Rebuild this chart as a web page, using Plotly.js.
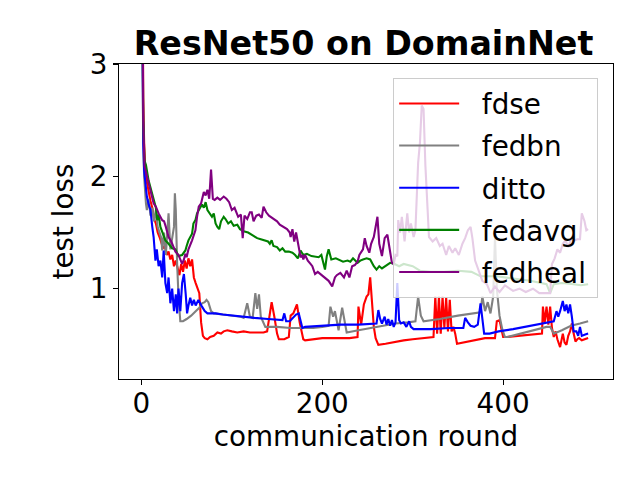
<!DOCTYPE html>
<html>
<head>
<meta charset="utf-8">
<script src="https://cdn.plot.ly/plotly-3.0.1.min.js"></script>
<style>
  body { margin: 0; background: #fff; }
  #graph { width: 640px; height: 480px; }
</style>
</head>
<body>
<div id="graph"></div>
<script>
// values
const fdseRounds = [0,1,2,3,4,6,8,10,12,14,16,18,20,22,24,26,28,30,32,34,36,38,40,42,44,46,48,50,52,54,56,58,60,62,64,66,68,70,73,76,80,84,88,91,95,100,106,113,120,128,135,139,141,144,147,150,152,158,163,165,168,172,175,179,181,190,200,210,220,230,239,240,243,246,249,251,253,255,257,259,262,270,281,290,300,310,323,325,327,329,331,333,335,337,339,341,343,345,347,349,355,365,380,391,393,396,400,404,415,430,443,444,446,448,450,452,454,456,458,460,463,466,468,470,472,474,476,478,480,482,484,487,490,494]
const fdseLoss = [5.5,3.6,2.7,2.3,2.1,1.95,1.85,1.78,1.72,1.62,1.58,1.5,1.46,1.4,1.36,1.38,1.3,1.33,1.26,1.3,1.2,1.25,1.18,1.12,1.22,1.15,1.25,1.18,1.27,1.2,1.26,1.1,1.05,1.0,0.96,0.7,0.58,0.56,0.55,0.57,0.58,0.61,0.6,0.62,0.63,0.62,0.61,0.62,0.61,0.61,0.61,0.62,0.72,0.88,0.75,0.6,0.55,0.55,0.57,0.76,0.78,0.86,0.7,0.55,0.54,0.55,0.56,0.56,0.56,0.56,0.57,0.84,0.68,0.86,0.93,0.95,1.1,0.9,0.66,0.56,0.5,0.51,0.53,0.54,0.55,0.56,0.57,0.93,0.6,0.93,0.6,0.93,0.65,0.92,0.62,0.9,0.62,0.66,0.6,0.51,0.52,0.54,0.56,0.56,0.71,0.72,0.57,0.57,0.58,0.59,0.6,0.84,0.7,0.84,0.68,0.84,0.65,0.57,0.62,0.55,0.48,0.6,0.52,0.5,0.58,0.62,0.69,0.6,0.53,0.55,0.56,0.54,0.55,0.56]

const fedbnRounds = [0,1,2,3,4,5,6,8,10,12,14,16,18,20,22,23,25,27,29,30,32,34,36,37,38,39.5,41,43,46,50,55,60,64,67,70,72,74,77,80,90,100,110,113,117,120,123,126,128,130,132,137,150,165,179,190,200,207,209,212,214,218,222,225,227,240,260,281,295,303,306,309,312,330,350,370,375,377,380,383,386,389,391,393,396,399,402,405,420,435,448,452,456,465,475,485,494]
const fedbnLoss = [4.0,2.8,2.3,2.0,1.82,1.76,1.7,1.8,1.65,1.72,1.6,1.7,1.55,1.5,1.45,1.34,1.5,1.3,1.6,1.67,1.35,1.45,1.55,1.85,1.7,1.22,0.93,0.71,0.71,0.73,0.76,0.8,0.83,0.87,0.88,0.9,0.88,0.8,0.78,0.77,0.76,0.75,0.74,0.87,0.75,0.74,0.96,0.82,0.95,0.75,0.66,0.66,0.65,0.65,0.65,0.66,0.67,0.84,0.75,0.8,0.63,0.83,0.68,0.61,0.63,0.66,0.69,0.7,0.71,0.93,0.76,0.71,0.73,0.76,0.78,0.79,0.93,0.8,0.88,0.78,0.93,1.46,1.0,0.76,0.64,0.57,0.57,0.6,0.63,0.66,0.66,0.6,0.63,0.67,0.69,0.71]

const dittoRounds = [0,1,2,3,4,5,6,8,10,12,13.5,15.5,17,19,21,23,24.6,26.5,28.5,30,32,34,36,38,39.5,41,43,45,47,49,50.5,52,54,56,58,60,63,67,70,73,76,82,90,100,113,125,140,156,158,160,164,168,171,174,176,178,181,200,220,240,260,262,264,266,269,271,273,275,277,279,281,283,285,287,290,293,296,298,301,320,340,356,358,361,364,368,372,375,377,379,385,395,411,430,448,456,459,461,463,466,468,470,472,474,476,478,481,483,485,487,490,494]
const dittoLoss = [4.8,3.0,2.3,2.05,1.95,1.88,1.82,1.75,1.7,1.55,1.46,1.25,1.35,1.2,1.25,1.1,1.34,1.05,0.96,1.1,0.87,1.0,0.8,0.95,0.78,1.0,0.8,1.05,1.13,0.95,0.78,0.85,0.92,0.85,0.9,0.85,0.9,0.84,0.8,0.78,0.78,0.78,0.77,0.76,0.75,0.74,0.73,0.72,0.78,0.71,0.71,0.75,0.77,0.78,0.72,0.65,0.66,0.67,0.68,0.68,0.69,0.81,0.73,0.69,0.75,0.68,0.73,0.67,0.72,0.66,0.7,1.05,0.72,0.69,0.7,0.66,0.71,0.66,0.64,0.64,0.65,0.65,0.74,0.7,0.67,0.66,0.68,0.87,0.7,0.6,0.6,0.62,0.64,0.67,0.7,0.71,0.8,0.75,0.8,0.89,0.8,0.86,0.78,0.86,0.75,0.62,0.62,0.58,0.66,0.58,0.59,0.6]

const fedavgRounds = [0,1,2,3.4,5,8,10,13.6,16,17.5,19,21,23,26.5,30,34,37.5,41,45,47,48.6,50,52,56,57.5,59.7,61.5,63.5,65.2,67,69,71,73,76,78,80,82,84,86,88,91,93,96,99,102,106,109,113,118,124,128,132,136,140,142,144,146,150,153,156,159,163,167,170,173,176,179,183,188,196,199,203,205,207,210,215,223,228,231,234,239,242,245,249,253,257,260,263,266,270,275,280,285,290,300,308,320,335,350,365,375,393,410,430,448,452,456,465,478,486,494]
const fedavgLoss = [5.0,3.2,2.5,2.14,2.1,1.96,1.9,1.79,1.72,1.61,1.66,1.55,1.5,1.43,1.4,1.36,1.35,1.29,1.3,1.33,1.34,1.38,1.43,1.49,1.58,1.61,1.67,1.7,1.73,1.75,1.72,1.77,1.7,1.67,1.64,1.67,1.58,1.55,1.53,1.6,1.64,1.62,1.58,1.6,1.56,1.57,1.53,1.51,1.5,1.47,1.45,1.44,1.43,1.42,1.4,1.43,1.38,1.37,1.34,1.36,1.33,1.33,1.32,1.3,1.27,1.34,1.3,1.31,1.29,1.28,1.3,1.17,1.29,1.35,1.26,1.27,1.24,1.25,1.24,1.27,1.23,1.25,1.26,1.27,1.26,1.2,1.17,1.2,1.18,1.2,1.23,1.22,1.2,1.22,1.2,1.16,1.15,1.15,1.16,1.15,1.11,1.11,1.09,1.07,1.04,0.96,1.04,1.05,1.04,1.03,1.04]

const fedhealRounds = [0,1,2,3.4,6,8,11,13.5,16,19,23,25,27,30,33,37.6,41,45,47,48.6,50,52,56,59.7,61.5,63.4,66,69,71,73,75,77,79,81,84,87,91,94,97,100,103,107,110,112,114,117,120,122,124,127,130,133,135,138,141,145,150,153,157,161,164,165,167,169,171,173,174,176,178,179,181,184,187,189,192,195,198,203,207,211,214,216,220,224,227,230,233,236,239,241,245,247,249,252,254,257,259,261,263,266,269,272,274,277,279,281,283,284,286,288,291,294,296,298,301,303,306,308,310,312,314,316,318,322,326,330,333,337,340,344,347,351,355,358,361,364,366,369,373,377,382,386,391,396,402,411,418,425,433,440,448,452,454,457,460,463,466,469,472,476,479,482,485,487,490,492,494]
const fedhealLoss = [6.0,3.4,2.5,2.09,2.0,1.94,1.85,1.76,1.73,1.67,1.61,1.6,1.55,1.46,1.42,1.33,1.3,1.22,1.26,1.31,1.28,1.35,1.43,1.52,1.64,1.73,1.76,1.86,1.83,1.88,1.8,2.06,1.8,1.79,1.81,1.79,1.82,1.8,1.77,1.7,1.72,1.64,1.66,1.45,1.65,1.62,1.68,1.68,1.6,1.65,1.66,1.63,1.73,1.68,1.65,1.63,1.6,1.57,1.55,1.53,1.5,1.46,1.53,1.42,1.5,1.4,1.37,1.28,1.3,1.26,1.3,1.25,1.22,1.2,1.13,1.15,1.13,1.1,1.07,1.02,1.1,1.12,1.14,1.1,1.16,1.1,1.2,1.21,1.24,1.3,1.35,1.45,1.38,1.32,1.4,1.46,1.55,1.64,1.4,1.29,1.45,1.48,1.38,1.23,1.22,1.3,1.29,1.61,1.5,1.64,1.42,1.67,1.5,1.58,1.46,1.52,2.12,2.3,2.63,2.6,2.1,1.73,1.46,1.42,1.45,1.38,1.4,1.3,1.38,1.32,1.36,1.3,1.4,1.45,1.52,1.55,1.45,1.25,1.15,1.07,1.04,0.96,1.02,0.97,1.03,0.98,1.0,0.97,1.0,0.96,0.96,0.96,1.22,1.27,1.35,1.32,1.4,1.43,1.37,1.46,1.43,1.44,1.44,1.67,1.6,1.52,1.53]

const seriesNames = ['fdse', 'fedbn', 'ditto', 'fedavg', 'fedheal']
const seriesColors = ['red', 'gray', 'blue', 'green', 'purple']
const seriesX = [fdseRounds, fedbnRounds, dittoRounds, fedavgRounds, fedhealRounds]
const seriesY = [fdseLoss, fedbnLoss, dittoLoss, fedavgLoss, fedhealLoss]

const font = 'DejaVu Sans, sans-serif'

const plotData = []
for (let i = 0; i < seriesNames.length; i++) {
    plotData.push({
        x: seriesX[i],
        y: seriesY[i],
        type: 'scatter',
        mode: 'lines',
        // no-break spaces push the label away from the line sample and pad the box
        name: '\u00a0\u00a0' + seriesNames[i] + '\u2009',
        legendgroup: seriesNames[i],
        line: {color: seriesColors[i], width: 2.1},
    })
}

const axisStyle = {
    showline: true,
    mirror: true,
    linecolor: 'black',
    linewidth: 1.1,
    showgrid: false,
    zeroline: false,
    ticks: 'outside',
    ticklen: 5,
    tickwidth: 1.1,
    tickcolor: 'black',
    tickfont: {family: font, size: 27.8, color: 'black'},
}

Plotly.newPlot('graph', plotData, {
    width: 640,
    height: 480,
    margin: {l: 119, r: 27, t: 64, b: 101},
    paper_bgcolor: 'white',
    plot_bgcolor: 'white',
    title: {
        text: '<b>ResNet50 on DomainNet</b>',
        font: {family: font, size: 33.3, color: 'black'},
        x: 0.568,
        xanchor: 'center',
        y: 0.885,
        yanchor: 'bottom',
    },
    xaxis: Object.assign({}, axisStyle, {
        range: [-24.8, 521.5],
        tickvals: [0, 200, 400],
        ticklabelstandoff: -5,
        title: {text: 'communication round', font: {family: font, size: 27.8, color: 'black'}, standoff: 4},
    }),
    yaxis: Object.assign({}, axisStyle, {
        range: [0.196, 3],
        tickvals: [1, 2, 3],
        title: {text: 'test loss', font: {family: font, size: 27.8, color: 'black'}, standoff: 7},
    }),
    showlegend: true,
    legend: {
        x: 0.555,
        y: 0.956,
        xanchor: 'left',
        yanchor: 'top',
        bgcolor: 'rgba(255,255,255,0.8)',
        bordercolor: '#cccccc',
        borderwidth: 1,
        font: {family: font, size: 27.8, color: 'black'},
        itemwidth: 60,
        tracegroupgap: 3,
    },
}, {displayModeBar: false, staticPlot: true})
</script>
</body>
</html>
